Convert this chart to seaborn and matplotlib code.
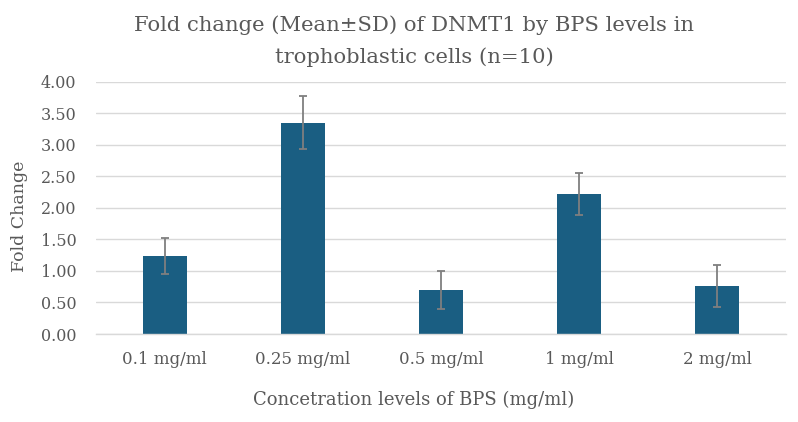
import matplotlib
matplotlib.use("Agg")
import matplotlib.pyplot as plt
import seaborn as sns
import pandas as pd
import numpy as np

categories = ["0.1 mg/ml", "0.25 mg/ml", "0.5 mg/ml", "1 mg/ml", "2 mg/ml"]
means = [1.24, 3.35, 0.70, 2.22, 0.76]
sds = [0.29, 0.42, 0.30, 0.33, 0.33]
yticks = [0.0, 0.5, 1.0, 1.5, 2.0, 2.5, 3.0, 3.5, 4.0]

title_lines = ["Fold change (Mean\u00b1SD) of DNMT1 by BPS levels in",
               "trophoblastic cells (n=10)"]
xlabel = "Concetration levels of BPS (mg/ml)"
ylabel = "Fold Change"

sns.set_theme(style="white")
plt.rcParams['font.family'] = ['DejaVu Serif']

text_color = "#595959"
bar_color = "#1a5e82"

df = pd.DataFrame({"cat": categories, "mean": means, "sd": sds})

fig = plt.figure(figsize=(7.98, 4.22), dpi=100)
ax = fig.add_axes([0.120, 0.2085, 0.865, 0.5975])

sns.barplot(data=df, x="cat", y="mean", color=bar_color, width=0.315,
            saturation=1, ax=ax, errorbar=None, zorder=2, linewidth=0)
xs = np.arange(len(categories))
ax.errorbar(xs, df["mean"], yerr=df["sd"], fmt="none", ecolor="#7f7f7f",
            elinewidth=1.3, capsize=3, capthick=1.3, zorder=3)

ax.set_ylim(0, 4.0)
ax.set_xlim(-0.5, len(categories) - 0.5)
ax.set_yticks(yticks)
ax.set_yticklabels([f"{v:.2f}" for v in yticks])
ax.yaxis.grid(True, color="#d9d9d9", linewidth=1.0, zorder=0)
ax.set_axisbelow(True)
for s in ["top", "right", "left"]:
    ax.spines[s].set_visible(False)
ax.spines["bottom"].set_color("#d9d9d9")
ax.spines["bottom"].set_linewidth(1.0)
ax.tick_params(axis="y", length=0, labelsize=11.5, colors=text_color, pad=14)
ax.tick_params(axis="x", length=0, labelsize=12, colors=text_color, pad=12)

ax.set_xlabel(xlabel, fontsize=13, color=text_color)
ax.xaxis.set_label_coords(0.461, -0.226)
ax.set_ylabel(ylabel, fontsize=12.5, color=text_color)
ax.yaxis.set_label_coords(-0.111, 0.466)
ax.yaxis.label.set_verticalalignment("center")

fig.text(0.519, 0.9273, title_lines[0], fontsize=15.2, color=text_color,
         ha="center", va="baseline")
fig.text(0.519, 0.8507, title_lines[1], fontsize=15.2, color=text_color,
         ha="center", va="baseline")

fig.savefig("out.png", dpi=100)
